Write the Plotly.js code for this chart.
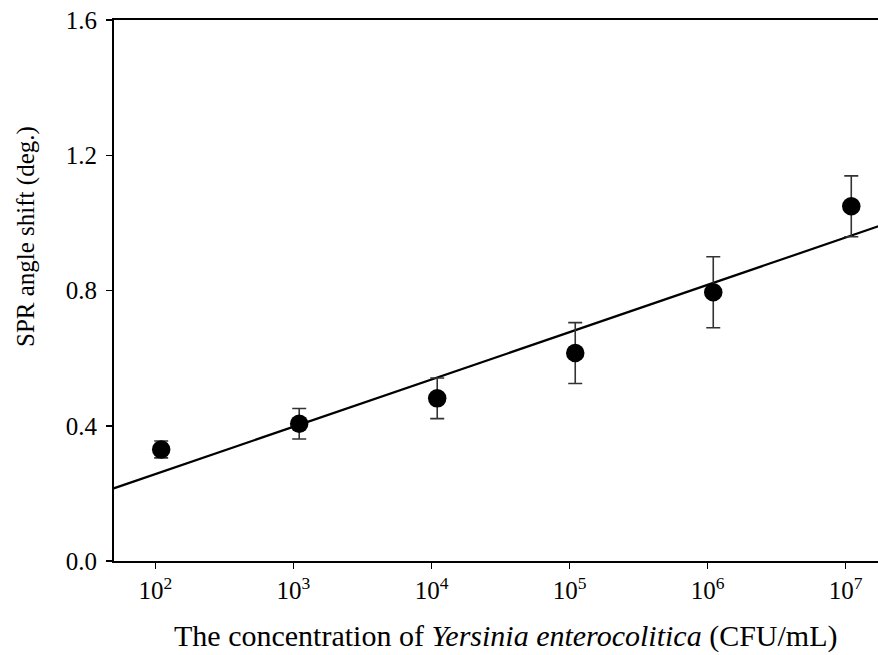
<!DOCTYPE html>
<html>
<head>
<meta charset="utf-8">
<script src="https://cdn.plot.ly/plotly-3.0.1.min.js"></script>
<style>html,body{margin:0;padding:0;background:#fff;}#chart{width:878px;height:655px;}</style>
</head>
<body>
<div id="chart"></div>
<script>
// Concentrations (CFU/mL) and measured SPR angle shifts
var concentration = [1.1e2, 1.1e3, 1.1e4, 1.1e5, 1.1e6, 1.1e7];
var angleShift = [0.330, 0.406, 0.481, 0.615, 0.795, 1.049];
var angleError = [0.025, 0.045, 0.060, 0.090, 0.105, 0.090];
var tickValues = [1e2, 1e3, 1e4, 1e5, 1e6, 1e7];
var tickLabels = ["10<sup>2</sup>", "10<sup>3</sup>", "10<sup>4</sup>", "10<sup>5</sup>", "10<sup>6</sup>", "10<sup>7</sup>"];
var yTicks = [0.0, 0.4, 0.8, 1.2, 1.6];
var yTickLabels = ["0.0", "0.4", "0.8", "1.2", "1.6"];
var xTitle = "The concentration of <i>Yersinia enterocolitica</i> (CFU/mL)";
var yTitle = "SPR angle shift (deg.)";

// linear regression of shift vs log10(concentration)
var lx = concentration.map(function(c){return Math.log10(c);});
var n = lx.length;
var mx = lx.reduce(function(a,b){return a+b;},0)/n;
var my = angleShift.reduce(function(a,b){return a+b;},0)/n;
var sxy = 0, sxx = 0;
for (var i=0;i<n;i++){ sxy += (lx[i]-mx)*(angleShift[i]-my); sxx += (lx[i]-mx)*(lx[i]-mx); }
var slope = sxy/sxx, intercept = my - slope*mx;
var xRange = [1.6995, 7.235];
var fitX = [Math.pow(10, xRange[0]-0.05), Math.pow(10, xRange[1]+0.05)];
var fitY = fitX.map(function(c){return intercept + slope*Math.log10(c);});

var ff = "Liberation Serif, Times New Roman, serif";

var traces = [
  {x: fitX, y: fitY, mode: "lines", line: {color: "#000", width: 2.2}, hoverinfo: "skip", showlegend: false},
  {x: concentration, y: angleShift, mode: "markers",
   marker: {color: "#000", size: 18.5},
   error_y: {type: "data", array: angleError, visible: true, color: "#333", thickness: 1.6, width: 7},
   showlegend: false}
];

var layout = {
  width: 878, height: 655,
  margin: {l: 113.5, r: 0, t: 19.5, b: 94},
  paper_bgcolor: "#fff", plot_bgcolor: "#fff",
  font: {family: ff, color: "#000"},
  xaxis: {
    type: "log", range: xRange,
    tickvals: tickValues, ticktext: tickLabels,
    tickfont: {family: ff, size: 25, color: "#000"},
    ticks: "outside", ticklen: 6, tickwidth: 1.5, tickcolor: "#000",
    showline: true, linecolor: "#000", linewidth: 2, mirror: true,
    showgrid: false, zeroline: false
  },
  yaxis: {
    range: [0, 1.6],
    tickvals: yTicks, ticktext: yTickLabels,
    tickfont: {family: ff, size: 25, color: "#000"},
    ticks: "outside", ticklen: 6, tickwidth: 1.5, tickcolor: "#000",
    ticklabelstandoff: 4,
    showline: true, linecolor: "#000", linewidth: 2,
    showgrid: false, zeroline: false
  },
  annotations: [
    {text: xTitle, xref: "paper", yref: "paper", x: 0.5134, y: -0.1385,
     xanchor: "center", yanchor: "middle", showarrow: false,
     font: {family: ff, size: 30, color: "#000"}},
    {text: yTitle, xref: "paper", yref: "paper", x: -0.1144, y: 0.600,
     xanchor: "center", yanchor: "middle", showarrow: false, textangle: -90,
     font: {family: ff, size: 25, color: "#000"}}
  ]
};

Plotly.newPlot("chart", traces, layout, {displayModeBar: false, staticPlot: true});
</script>
</body>
</html>
